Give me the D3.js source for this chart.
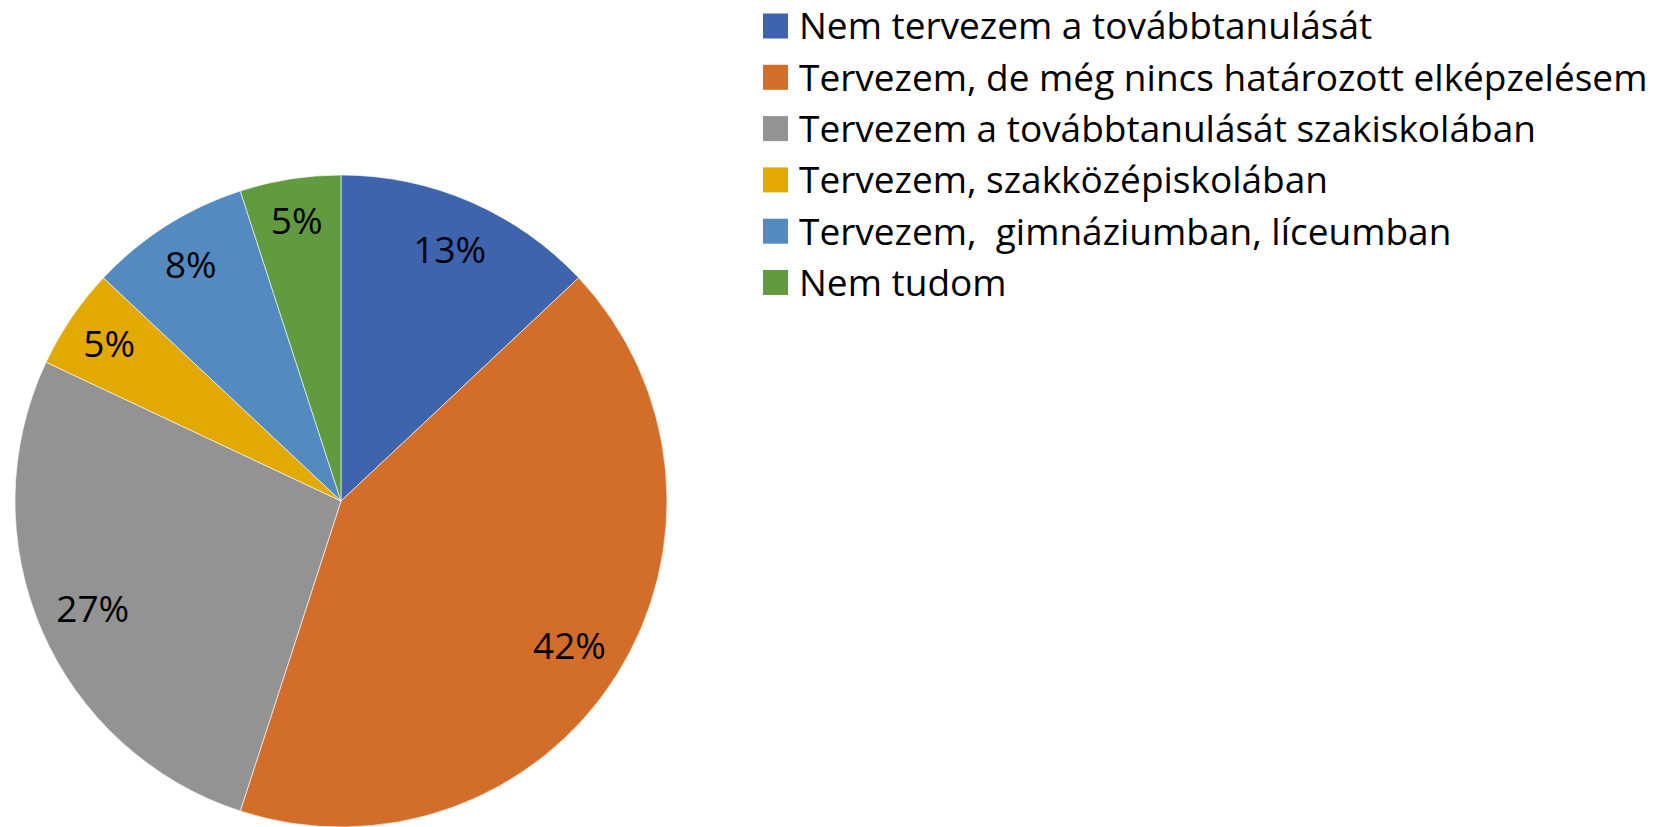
<!DOCTYPE html>
<html>
<head>
<meta charset="utf-8">
<script src="https://cdn.jsdelivr.net/npm/d3@7"></script>
<style>
    body { margin: 0; background: #fff; }
    text { font-family: "Open Sans", sans-serif; fill: #000; }
</style>
</head>
<body>
<div id="chart"></div>
<script>
const categories = [
    "Nem tervezem a továbbtanulását",
    "Tervezem, de még nincs határozott elképzelésem",
    "Tervezem a továbbtanulását szakiskolában",
    "Tervezem, szakközépiskolában",
    "Tervezem,  gimnáziumban, líceumban",
    "Nem tudom"
];
const values = [13, 42, 27, 5, 8, 5];
const colors = ["#3D64AD", "#D36E2A", "#939393", "#E2AA00", "#538AC0", "#629B3F"];

const width = 1660, height = 827;
const cx = 341, cy = 501, radius = 326;
// Excel pushes the small slices' labels a bit further out
const labelFactor = [0.84, 0.83, 0.83, 0.86, 0.86, 0.87];

const svg = d3.select("#chart")
    .append("svg")
    .attr("width", width)
    .attr("height", height);

const pie = d3.pie().sort(null).value(d => d);
const arcs = pie(values);

const g = svg.append("g").attr("transform", `translate(${cx},${cy})`);

g.selectAll("path")
    .data(arcs)
    .join("path")
    .attr("d", d3.arc().innerRadius(0).outerRadius(radius))
    .style("fill", (d, i) => colors[i])
    .style("stroke", "#fff")
    .style("stroke-width", 0.6);

g.selectAll("text.lbl")
    .data(arcs)
    .join("text")
    .attr("class", "lbl")
    .attr("transform", (d, i) => {
        const a = (d.startAngle + d.endAngle) / 2;
        const r = radius * labelFactor[i];
        return `translate(${Math.sin(a) * r},${-Math.cos(a) * r})`;
    })
    .attr("text-anchor", "middle")
    .attr("dy", "0.36em")
    .style("font-size", "37px")
    .text(d => d.value + "%");

// Legend
const legend = svg.append("g").attr("transform", "translate(763,26)");
const rowH = 51.3;

const item = legend.selectAll("g")
    .data(categories)
    .join("g")
    .attr("transform", (d, i) => `translate(0,${i * rowH})`);

item.append("rect")
    .attr("x", 0)
    .attr("y", -12.5)
    .attr("width", 25)
    .attr("height", 25)
    .style("fill", (d, i) => colors[i]);

item.append("text")
    .attr("x", 36)
    .attr("dy", "0.36em")
    .style("font-size", "37px")
    .style("white-space", "pre")
    .text(d => d);
</script>
</body>
</html>
